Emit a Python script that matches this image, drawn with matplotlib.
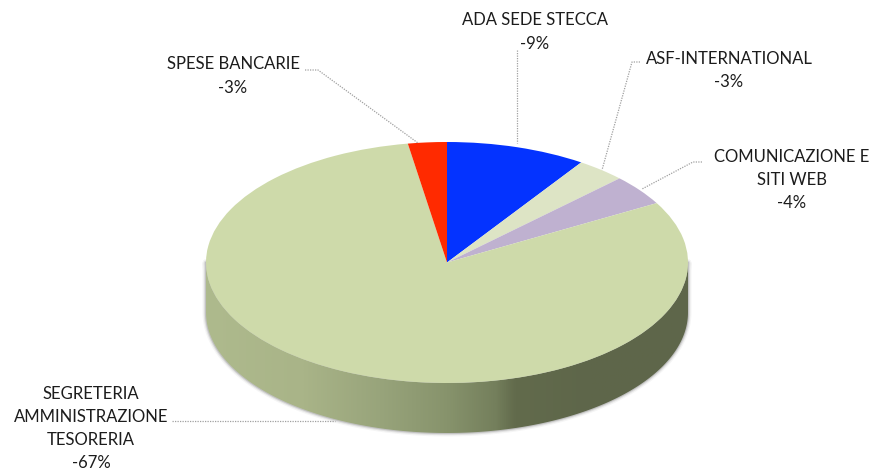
import numpy as np
import matplotlib
matplotlib.use("Agg")
import matplotlib.pyplot as plt
from matplotlib.path import Path
from matplotlib.patches import PathPatch
from matplotlib.colors import LinearSegmentedColormap

# Data, clockwise from twelve o'clock
categories = ["ADA SEDE STECCA", "ASF-INTERNATIONAL", "COMUNICAZIONE E\nSITI WEB",
              "SEGRETERIA\nAMMINISTRAZIONE\nTESORERIA", "SPESE BANCARIE"]
slice_shares = [9.4, 3.3, 4.1, 80.6, 2.6]   # drawn share
percent_labels = ["-9%", "-3%", "-4%", "-67%", "-3%"]
slice_colors = ["#0433ff", "#dde4c5", "#bfb1d0", "#cedaaa", "#ff2a00"]

# Layout in reference pixels
W, H = 872, 473
CX, CY, RX, RY, DEPTH = 447, 262.5, 241, 120.5, 50
label_pos = [(534.5, 32), (729, 70.5), (792, 180), (91, 428.5), (233, 76)]
leaders = [
    [(517, 50), (517, 143)],
    [(640, 62), (632, 62), (602, 170)],
    [(702, 162), (693, 162), (642, 189)],
    [(172, 421), (335, 421)],
    [(305, 70), (318, 70), (418, 143)],
]

plt.rcParams["font.family"] = ["Lato", "DejaVu Sans"]
fig = plt.figure(figsize=(W / 100, H / 100), dpi=100, facecolor="white")

# Pixel-coordinate layer: side wall
bg = fig.add_axes([0, 0, 1, 1], zorder=1)
bg.set_xlim(0, W)
bg.set_ylim(H, 0)
bg.axis("off")

t = np.linspace(np.pi, 0, 241)
ex, ey = CX + RX * np.cos(t), CY + RY * np.sin(t)
verts = np.vstack([
    np.column_stack([ex, ey + DEPTH]),
    np.column_stack([ex[::-1], ey[::-1]]),
])
wall_path = Path(np.vstack([verts, verts[0]]), closed=True)

# Soft edge shadow
for lw, alpha in [(5, 0.06), (3.2, 0.12), (1.6, 0.22)]:
    bg.add_patch(PathPatch(wall_path, fc="none", ec="#555555", lw=lw, alpha=alpha,
                           joinstyle="round", zorder=1))

wall_cmap = LinearSegmentedColormap.from_list("wall", [
    (0.00, "#aeba8d"), (0.20, "#a9b488"), (0.36, "#98a47b"), (0.50, "#87936c"),
    (0.60, "#747f5c"), (0.64, "#626b4c"), (0.80, "#5e664a"), (1.00, "#5f674a"),
])
grad = np.linspace(0, 1, 512).reshape(1, -1)
im = bg.imshow(grad, cmap=wall_cmap, aspect="auto", interpolation="bilinear",
               extent=(CX - RX, CX + RX, CY + RY + DEPTH + 2, CY - 2), zorder=2)
im.set_clip_path(PathPatch(wall_path, transform=bg.transData))
bg.set_xlim(0, W)
bg.set_ylim(H, 0)

# Top face: a real pie, stretched to an ellipse by its axes
pie_ax = fig.add_axes([(CX - RX) / W, 1 - (CY + RY) / H, 2 * RX / W, 2 * RY / H], zorder=2)
wedges, _ = pie_ax.pie(slice_shares, colors=slice_colors, startangle=90, counterclock=False,
                       radius=1, wedgeprops=dict(linewidth=0))
pie_ax.set_aspect("auto")
pie_ax.set_xlim(-1, 1)
pie_ax.set_ylim(-1, 1)
pie_ax.patch.set_alpha(0)

# Labels and leader lines
fg = fig.add_axes([0, 0, 1, 1], zorder=3)
fg.set_xlim(0, W)
fg.set_ylim(H, 0)
fg.axis("off")
fg.patch.set_alpha(0)
for name, pct, (lx, ly), pts in zip(categories, percent_labels, label_pos, leaders):
    xs, ys = zip(*pts)
    fg.plot(xs, ys, color="#a0a0a0", lw=0.9, ls=(0, (1, 1)), solid_capstyle="butt")
    fg.text(lx, ly, name + "\n" + pct, ha="center", va="center", multialignment="center",
            fontsize=12, color="#1c1c1c", linespacing=1.55)

fig.savefig("out.png", dpi=100, facecolor="white")
